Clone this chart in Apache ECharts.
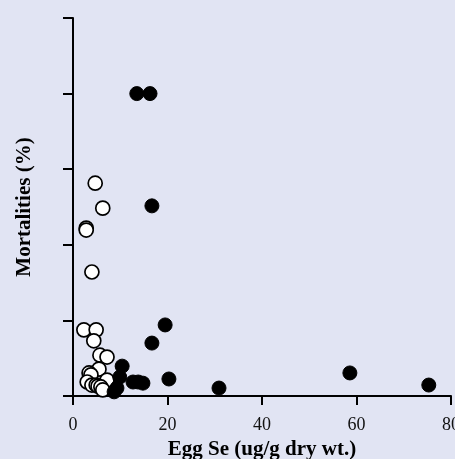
<!DOCTYPE html>
<html lang="en">
<head>
    <meta charset="UTF-8">
    <title>Egg Se vs Mortalities</title>
    <script src="https://cdn.jsdelivr.net/npm/echarts@6/dist/echarts.min.js"></script>
    <style>
        html, body { margin: 0; padding: 0; background: #e1e4f3; }
        #main { width: 455px; height: 459px; }
    </style>
</head>
<body>
    <div id="main"></div>
</body>
<script>
    // open circles [egg Se, mortality %]
    var openPts = [
        [4.7, 56.3], [6.3, 49.7], [2.8, 44.4], [2.8, 43.9], [4.0, 32.8],
        [2.3, 17.5], [4.9, 17.5], [4.4, 14.6], [5.7, 10.8], [7.2, 10.3],
        [5.5, 7.1], [3.4, 6.1], [3.8, 5.6], [3.0, 3.7], [7.2, 4.2],
        [4.0, 2.9], [4.9, 2.9], [5.3, 2.6], [5.9, 2.4], [6.3, 1.6]
    ];
    // filled circles
    var filledPts = [
        [13.5, 80], [16.3, 80], [16.7, 50.3], [19.5, 18.8], [16.7, 14.0],
        [10.4, 7.9], [9.9, 5.0], [9.3, 2.1], [8.7, 1.1], [12.7, 3.7],
        [13.8, 3.7], [14.8, 3.4], [20.3, 4.5], [30.9, 2.1], [58.6, 6.1],
        [75.3, 2.9]
    ];
    var xTicks = [0, 20, 40, 60, 80];

    var font = '"Liberation Serif", "DejaVu Serif", serif';
    var chart = echarts.init(document.getElementById('main'));
    var option = {
        backgroundColor: '#e1e4f3',
        animation: false,
        grid: {
            left: 73,
            right: 4,
            top: 18,
            bottom: 63,
            containLabel: false,
            outerBoundsMode: 'none'
        },
        xAxis: {
            type: 'value',
            min: xTicks[0],
            max: xTicks[xTicks.length - 1],
            interval: 20,
            name: 'Egg Se (ug/g dry wt.)',
            nameLocation: 'middle',
            nameGap: 39,
            nameTextStyle: { fontFamily: font, fontWeight: 'bold', fontSize: 21, color: '#000' },
            axisLine: { onZero: false, lineStyle: { color: '#000', width: 2 } },
            axisTick: { length: 9, lineStyle: { color: '#000', width: 2 } },
            axisLabel: { fontFamily: font, fontSize: 18, color: '#111', margin: 20 },
            splitLine: { show: false }
        },
        yAxis: {
            type: 'value',
            min: 0,
            max: 100,
            interval: 20,
            name: 'Mortalities (%)',
            nameLocation: 'middle',
            nameGap: 38,
            nameTextStyle: { fontFamily: font, fontWeight: 'bold', fontSize: 21, color: '#000' },
            axisLine: { show: true, lineStyle: { color: '#000', width: 2 } },
            axisTick: { show: true, length: 10, lineStyle: { color: '#000', width: 2 } },
            axisLabel: { show: false },
            splitLine: { show: false }
        },
        series: [{
            name: 'open',
            type: 'scatter',
            symbol: 'circle',
            symbolSize: 14,
            data: openPts,
            itemStyle: { color: '#ffffff', borderColor: '#000', borderWidth: 1.7, opacity: 1 }
        }, {
            name: 'filled',
            type: 'scatter',
            symbol: 'circle',
            symbolSize: 14,
            data: filledPts,
            itemStyle: { color: '#000', borderColor: '#000', borderWidth: 1, opacity: 1 }
        }]
    };
    chart.setOption(option);
</script>
</html>
